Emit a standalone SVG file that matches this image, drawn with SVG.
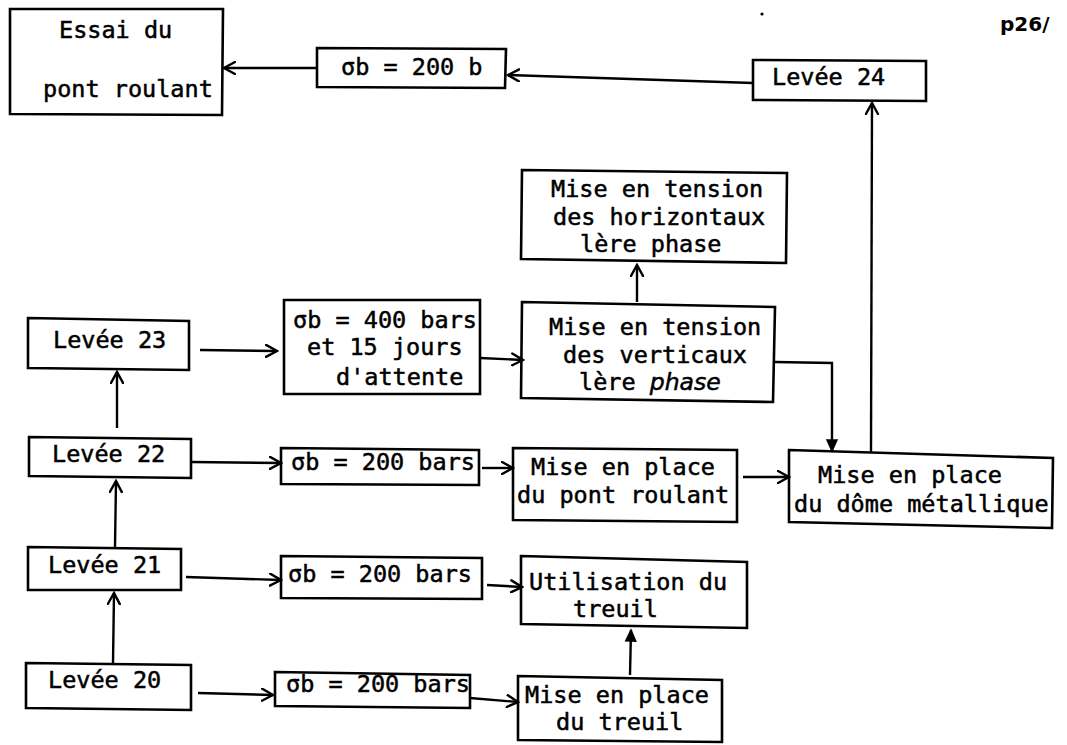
<svg xmlns="http://www.w3.org/2000/svg" width="1067" height="745" viewBox="0 0 1067 745">
<style>
.box{fill:none;stroke:#000;stroke-width:2.6;stroke-linejoin:miter}
.t{font-family:"DejaVu Sans Mono","Liberation Mono",monospace;font-size:23.5px;fill:#000;stroke:#000;stroke-width:0.5}
.c{fill:none;stroke:#000;stroke-width:2.4}
</style>
<defs>
<marker id="a" markerWidth="14" markerHeight="14" refX="12" refY="7" orient="auto" markerUnits="userSpaceOnUse">
<path d="M1,1 L12,7 L1,13" fill="none" stroke="#000" stroke-width="2.4" stroke-linecap="round"/>
</marker>
<marker id="f" markerWidth="14" markerHeight="14" refX="12" refY="7" orient="auto" markerUnits="userSpaceOnUse">
<path d="M1,2 L12,7 L1,12 Z" fill="#000" stroke="#000" stroke-width="1.5"/>
</marker>
</defs>
<rect width="1067" height="745" fill="#fff"/>

<g id="essai"><path class="box" d="M10,9 L223,9 L222,115 L10,114 Z"/>
<text class="t" x="59" y="38">Essai du</text><text class="t" x="43" y="97">pont roulant</text></g>
<g id="sb200b"><path class="box" d="M317,48 L506,49 L505,88 L317,87 Z"/>
<text class="t" x="341" y="75">σb = 200 b</text></g>
<g id="levee24"><path class="box" d="M753,60 L926,61 L926,101 L753,100 Z"/>
<text class="t" x="772" y="85">Levée 24</text></g>
<g id="horiz"><path class="box" d="M522,170 L787,173 L786,263 L521,259 Z"/>
<text class="t" x="551" y="197">Mise en tension</text><text class="t" x="553" y="225">des horizontaux</text><text class="t" x="580" y="252">lère phase</text></g>
<g id="vert"><path class="box" d="M522,302 L775,307 L773,402 L521,398 Z"/>
<text class="t" x="549" y="335">Mise en tension</text><text class="t" x="563" y="363">des verticaux</text><text class="t" x="579" y="390">lère <tspan style="font-family:'DejaVu Sans',sans-serif;font-style:italic">phase</tspan></text></g>
<g id="sb400"><path class="box" d="M284,300 L480,300 L480,394 L284,394 Z"/>
<text class="t" x="293" y="328">σb = 400 bars</text><text class="t" x="307" y="355">et 15 jours</text><text class="t" x="336" y="385">d'attente</text></g>
<g id="levee23"><path class="box" d="M28,318 L189,321 L189,370 L28,368 Z"/>
<text class="t" x="53" y="348">Levée 23</text></g>
<g id="levee22"><path class="box" d="M29,437 L191,439 L191,478 L29,476 Z"/>
<text class="t" x="52" y="462">Levée 22</text></g>
<g id="sb22"><path class="box" d="M281,448 L479,450 L479,485 L281,484 Z"/>
<text class="t" x="291" y="470">σb = 200 bars</text></g>
<g id="pont"><path class="box" d="M513,448 L737,450 L737,522 L513,520 Z"/>
<text class="t" x="531" y="475">Mise en place</text><text class="t" x="517" y="503">du pont roulant</text></g>
<g id="dome"><path class="box" d="M789,450 L1053,458 L1052,528 L789,522 Z"/>
<text class="t" x="818" y="483">Mise en place</text><text class="t" x="794" y="512">du dôme métallique</text></g>
<g id="levee21"><path class="box" d="M28,547 L181,549 L181,590 L28,590 Z"/>
<text class="t" x="48" y="573">Levée 21</text></g>
<g id="sb21"><path class="box" d="M281,556 L482,558 L482,599 L281,598 Z"/>
<text class="t" x="288" y="582">σb = 200 bars</text></g>
<g id="util"><path class="box" d="M521,556 L747,562 L747,628 L521,624 Z"/>
<text class="t" x="529" y="590">Utilisation du</text><text class="t" x="573" y="617">treuil</text></g>
<g id="levee20"><path class="box" d="M26,663 L191,665 L191,710 L26,708 Z"/>
<text class="t" x="48" y="688">Levée 20</text></g>
<g id="sb20"><path class="box" d="M275,672 L470,675 L470,708 L275,706 Z"/>
<text class="t" x="286" y="692">σb = 200 bars</text></g>
<g id="treuil"><path class="box" d="M518,676 L722,680 L722,742 L518,740 Z"/>
<text class="t" x="525" y="703">Mise en place</text><text class="t" x="556" y="730">du treuil</text></g>

<g id="annot">
<text x="1000" y="31" style="font-family:'DejaVu Sans',sans-serif;font-size:20px;font-weight:bold;fill:#000">p26/</text>
<circle cx="762" cy="14" r="1.6" fill="#000"/>
</g>

<g id="connectors">
<line class="c" x1="753" y1="83" x2="508" y2="75" marker-end="url(#a)"/>
<line class="c" x1="317" y1="68" x2="224" y2="68" marker-end="url(#a)"/>
<line class="c" x1="871" y1="452" x2="872" y2="103" marker-end="url(#a)"/>
<line class="c" x1="637" y1="302" x2="637" y2="265" marker-end="url(#a)"/>
<polyline class="c" points="775,362 832,363 832,451" marker-end="url(#f)"/>
<line class="c" x1="200" y1="350" x2="277" y2="351" marker-end="url(#a)"/>
<line class="c" x1="480" y1="358" x2="523" y2="360" marker-end="url(#a)"/>
<line class="c" x1="117" y1="428" x2="117" y2="372" marker-end="url(#a)"/>
<line class="c" x1="191" y1="462" x2="281" y2="463" marker-end="url(#a)"/>
<line class="c" x1="482" y1="468" x2="513" y2="468" marker-end="url(#a)"/>
<line class="c" x1="743" y1="477" x2="789" y2="477" marker-end="url(#a)"/>
<line class="c" x1="115" y1="547" x2="116" y2="481" marker-end="url(#a)"/>
<line class="c" x1="186" y1="577" x2="281" y2="580" marker-end="url(#a)"/>
<line class="c" x1="487" y1="585" x2="522" y2="587" marker-end="url(#a)"/>
<line class="c" x1="113" y1="663" x2="114" y2="593" marker-end="url(#a)"/>
<line class="c" x1="198" y1="693" x2="273" y2="695" marker-end="url(#a)"/>
<line class="c" x1="470" y1="698" x2="518" y2="702" marker-end="url(#a)"/>
<line class="c" x1="630" y1="675" x2="631" y2="630" marker-end="url(#f)"/>
</g>
</svg>
